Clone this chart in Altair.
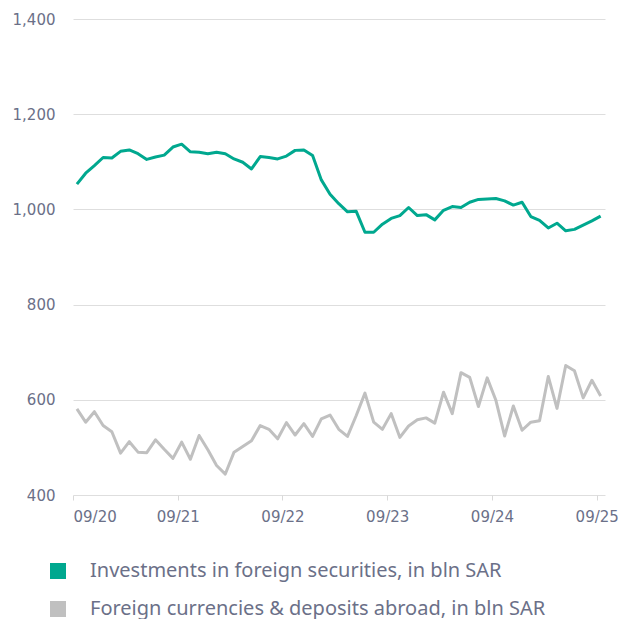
import altair as alt
import pandas as pd

series_names = [
    "Investments in foreign securities, in bln SAR",
    "Foreign currencies & deposits abroad, in bln SAR",
]

investments = [1053, 1076, 1092, 1109, 1108, 1122, 1125, 1117, 1105, 1110,
               1114, 1131, 1137, 1121, 1120, 1117, 1120, 1117, 1106, 1099,
               1085, 1111, 1109, 1106, 1112, 1124, 1125, 1113, 1062, 1032,
               1012, 995, 996, 952, 952, 969, 981, 987, 1004, 987,
               989, 978, 998, 1006, 1004, 1015, 1021, 1022, 1023, 1018,
               1009, 1015, 985, 977, 961, 971, 955, 958, 967, 976, 986]

deposits = [581, 553, 575, 546, 533, 488, 512, 490, 489, 516,
            496, 477, 511, 475, 525, 495, 462, 444, 490, 502,
            514, 546, 538, 518, 552, 526, 550, 523, 560, 568,
            538, 523, 567, 614, 553, 538, 571, 521, 545, 558,
            562, 551, 616, 571, 657, 647, 586, 646, 599, 524,
            587, 536, 553, 556, 649, 582, 672, 661, 604, 641, 608]

tick_labels = ["09/20", "09/21", "09/22", "09/23", "09/24", "09/25"]
tick_months = [0, 12, 24, 36, 48, 60]
y_ticks = [400, 600, 800, 1000, 1200, 1400]

# months since 09/2020, point placed mid-month
months = [i + 0.45 for i in range(len(investments))]

rows = []
for m, v in zip(months, investments):
    rows.append({"m": m, "v": v, "series": series_names[0]})
for m, v in zip(months, deposits):
    rows.append({"m": m, "v": v, "series": series_names[1]})
df = pd.DataFrame(rows)

label_expr = "[" + ",".join(f"'{t}'" for t in tick_labels) + "][round(datum.value/12)]"

text_color = "#6b7088"
font = "DejaVu Sans"

x_enc = alt.X("m:Q",
              scale=alt.Scale(domain=[0, 60.95], nice=False, zero=False),
              axis=alt.Axis(values=tick_months, labelExpr=label_expr, grid=False,
                            domain=False, ticks=True, tickColor="#d9d9d9", tickSize=5,
                            labelPadding=9, labelFontSize=15, labelColor=text_color,
                            labelFont=font, title=None))
y_enc = alt.Y("v:Q",
              scale=alt.Scale(domain=[400, 1400], nice=False, zero=False),
              axis=alt.Axis(values=y_ticks, format=",.0f", grid=True, gridColor="#dedede",
                            gridWidth=1, domain=False, ticks=False, title=None,
                            minExtent=65, maxExtent=65, labelPadding=18,
                            labelFontSize=15, labelColor=text_color, labelFont=font))
color_enc = alt.Color("series:N",
                      scale=alt.Scale(domain=series_names, range=["#00a88f", "#c0c0c0"]),
                      legend=alt.Legend(orient="none", legendX=-25, legendY=542,
                                        title=None, symbolType="square", symbolSize=256,
                                        symbolStrokeWidth=0, symbolOpacity=1,
                                        labelFontSize=20, labelFont="Noto Sans",
                                        labelColor=text_color, labelOffset=22,
                                        rowPadding=18, padding=0, direction="vertical",
                                        labelLimit=600))

lines = alt.Chart(df).mark_line(strokeWidth=3, strokeJoin="round").encode(
    x=x_enc, y=y_enc, color=color_enc)
# invisible filled squares so the legend shows filled square swatches
swatch = alt.Chart(df).mark_point(shape="square", filled=True, opacity=0, size=1).encode(
    x=x_enc, y=y_enc, color=color_enc)

chart = alt.layer(lines, swatch).properties(
    width=532, height=476,
    padding={"left": 0, "top": 4, "right": 0, "bottom": 0},
    background="white",
).configure_view(stroke=None, strokeWidth=0)

chart.save("out.html", embed_options={"renderer": "svg", "actions": False})
